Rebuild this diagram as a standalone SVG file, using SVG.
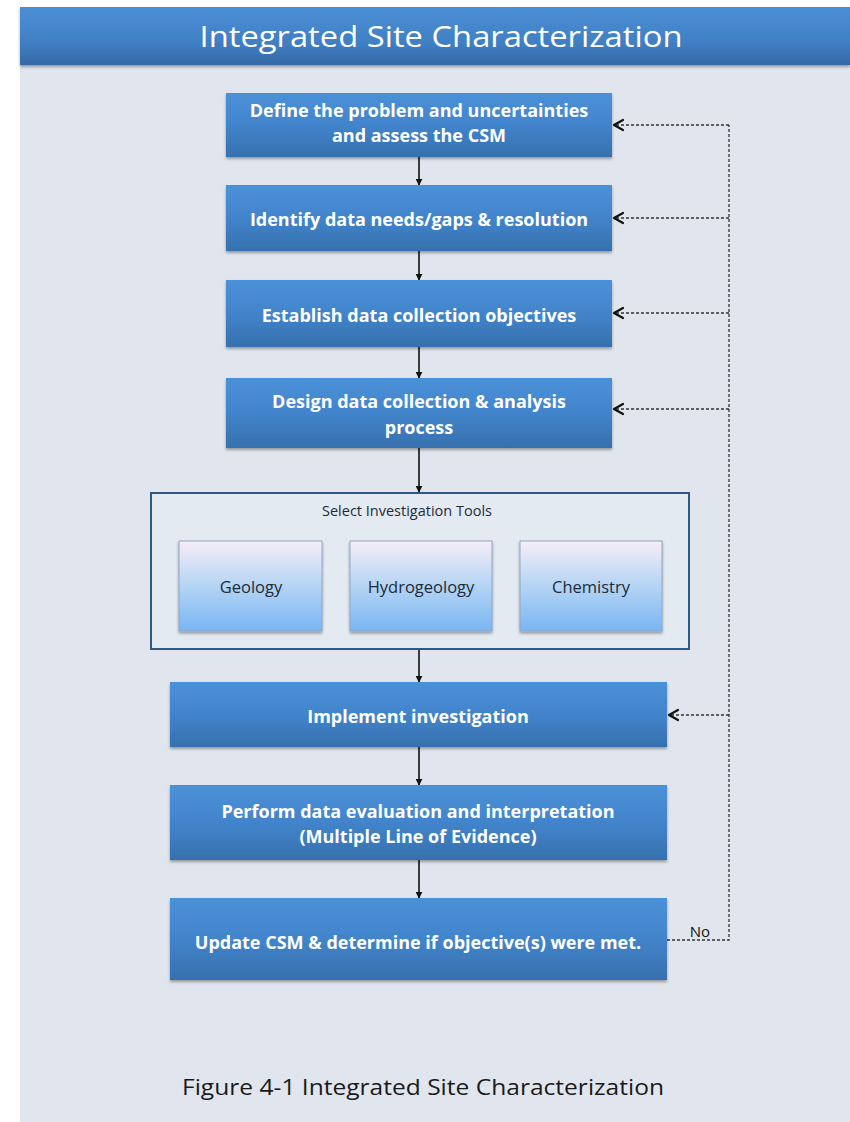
<svg xmlns="http://www.w3.org/2000/svg" width="850" height="1122" viewBox="0 0 850 1122">
<defs>
<linearGradient id="gBlue" x1="0" y1="0" x2="0" y2="1">
<stop offset="0" stop-color="#4b91d8"/>
<stop offset="0.5" stop-color="#4284cb"/>
<stop offset="1" stop-color="#3670ad"/>
</linearGradient>
<linearGradient id="gTitle" x1="0" y1="0" x2="0" y2="1">
<stop offset="0" stop-color="#4a8fd6"/>
<stop offset="0.6" stop-color="#4180c4"/>
<stop offset="1" stop-color="#3468a6"/>
</linearGradient>
<linearGradient id="gTool" x1="0" y1="0" x2="0" y2="1">
<stop offset="0" stop-color="#f6eef8"/>
<stop offset="0.5" stop-color="#b4d4f4"/>
<stop offset="1" stop-color="#78b6f4"/>
</linearGradient>
<filter id="sh" x="-5%" y="-10%" width="110%" height="130%">
<feGaussianBlur in="SourceAlpha" stdDeviation="1.5"/>
<feOffset dx="0" dy="2" result="b"/>
<feComponentTransfer><feFuncA type="linear" slope="0.35"/></feComponentTransfer>
<feMerge><feMergeNode/><feMergeNode in="SourceGraphic"/></feMerge>
</filter>
<marker id="arr" viewBox="0 0 10 10" refX="9" refY="5" markerWidth="7" markerHeight="7" orient="auto" markerUnits="userSpaceOnUse">
<path d="M0,0 L10,5 L0,10 Z" fill="#111"/>
</marker>
<style>
.box{fill:url(#gBlue);filter:url(#sh);}
.tool{fill:url(#gTool);stroke:#8fa6bf;stroke-width:1;filter:url(#sh);}
.bt{font-family:"Open Sans","Liberation Sans",sans-serif;font-weight:bold;font-size:18px;fill:#ffffff;text-anchor:middle;}
.tt{font-family:"Open Sans","Liberation Sans",sans-serif;font-size:16.5px;fill:#1d2b3a;text-anchor:middle;}
.solid{stroke:#111;stroke-width:1.6;fill:none;marker-end:url(#arr);}
.dash{stroke:#333;stroke-width:1.3;stroke-dasharray:3 2;fill:none;}
.chev{stroke:#111;stroke-width:2.2;fill:none;stroke-linecap:round;stroke-linejoin:round;}
</style>
</defs>

<rect x="20" y="7" width="830" height="1115" fill="#e1e6ee"/>
<g id="title">
<rect x="20" y="7" width="830" height="58" fill="url(#gTitle)" filter="url(#sh)"/>
<text x="441" y="47" font-family="Open Sans, Liberation Sans, sans-serif" font-size="30" fill="#ffffff" text-anchor="middle" textLength="483" lengthAdjust="spacingAndGlyphs">Integrated Site Characterization</text>
</g>

<g id="connectors">
<line class="solid" x1="419" y1="157" x2="419" y2="185"/>
<line class="solid" x1="419" y1="251" x2="419" y2="280"/>
<line class="solid" x1="419" y1="347" x2="419" y2="378"/>
<line class="solid" x1="419" y1="448" x2="419" y2="492"/>
<line class="solid" x1="419" y1="649" x2="419" y2="682"/>
<line class="solid" x1="419" y1="747" x2="419" y2="785"/>
<line class="solid" x1="419" y1="860" x2="419" y2="898"/>
<polyline class="dash" points="667,940 729,940 729,125"/>
<line class="dash" x1="729" y1="125" x2="615" y2="125"/>
<line class="dash" x1="729" y1="218" x2="615" y2="218"/>
<line class="dash" x1="729" y1="313" x2="615" y2="313"/>
<line class="dash" x1="729" y1="409" x2="615" y2="409"/>
<line class="dash" x1="729" y1="715" x2="670" y2="715"/>
<path class="chev" d="M623,120 L614,125 L623,130"/>
<path class="chev" d="M623,213 L614,218 L623,223"/>
<path class="chev" d="M623,308 L614,313 L623,318"/>
<path class="chev" d="M623,404 L614,409 L623,414"/>
<path class="chev" d="M678,710 L669,715 L678,720"/>
<text x="700" y="937" font-family="Open Sans, Liberation Sans, sans-serif" font-size="15" fill="#111" text-anchor="middle">No</text>
</g>

<g id="n1">
<rect class="box" x="226" y="93" width="386" height="64"/>
<text class="bt" x="419" y="117">Define the problem and uncertainties<tspan x="419" dy="25">and assess the CSM</tspan></text>
</g>
<g id="n2">
<rect class="box" x="226" y="185" width="386" height="66"/>
<text class="bt" x="419" y="226">Identify data needs/gaps &amp; resolution</text>
</g>
<g id="n3">
<rect class="box" x="226" y="280" width="386" height="67"/>
<text class="bt" x="419" y="322">Establish data collection objectives</text>
</g>
<g id="n4">
<rect class="box" x="226" y="378" width="386" height="70"/>
<text class="bt" x="419" y="408">Design data collection &amp; analysis<tspan x="419" dy="26">process</tspan></text>
</g>
<g id="n5">
<rect x="151" y="493" width="538" height="156" fill="#e4eaf2" stroke="#2f5a85" stroke-width="2"/>
<text class="tt" x="407" y="516" style="font-size:14.5px">Select Investigation Tools</text>
</g>
<g id="geology">
<rect class="tool" x="179" y="541" width="143" height="90"/>
<text class="tt" x="251" y="593">Geology</text>
</g>
<g id="hydrogeology">
<rect class="tool" x="350" y="541" width="142" height="90"/>
<text class="tt" x="421" y="593">Hydrogeology</text>
</g>
<g id="chemistry">
<rect class="tool" x="520" y="541" width="142" height="90"/>
<text class="tt" x="591" y="593">Chemistry</text>
</g>
<g id="n6">
<rect class="box" x="170" y="682" width="497" height="65"/>
<text class="bt" x="418" y="723">Implement investigation</text>
</g>
<g id="n7">
<rect class="box" x="170" y="785" width="497" height="75"/>
<text class="bt" x="418" y="818">Perform data evaluation and interpretation<tspan x="418" dy="25">(Multiple Line of Evidence)</tspan></text>
</g>
<g id="n8">
<rect class="box" x="170" y="898" width="497" height="82"/>
<text class="bt" x="418" y="949">Update CSM &amp; determine if objective(s) were met.</text>
</g>

<text x="423" y="1095" font-family="Open Sans, Liberation Sans, sans-serif" font-size="22" fill="#1a1a1a" text-anchor="middle" textLength="482" lengthAdjust="spacingAndGlyphs">Figure 4-1 Integrated Site Characterization</text>
</svg>
